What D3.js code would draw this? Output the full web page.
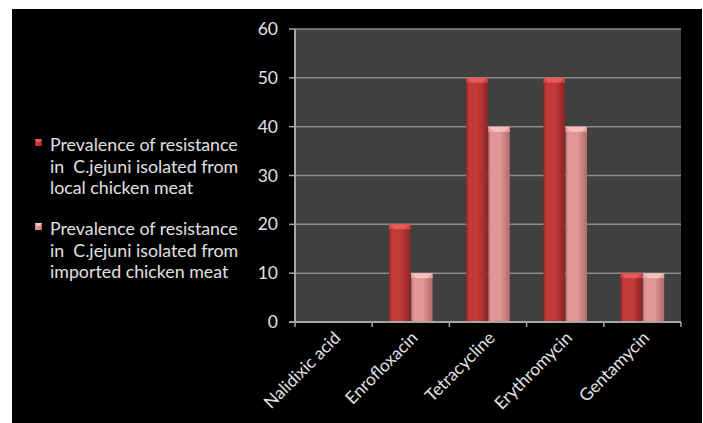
<!DOCTYPE html>
<html>
<head>
<meta charset="utf-8">
<script src="https://cdn.jsdelivr.net/npm/d3@7/dist/d3.min.js"></script>
<style>
  html, body { margin: 0; padding: 0; background: #ffffff; }
  svg { display: block; }
  text { font-family: Lato, "Open Sans", sans-serif; white-space: pre; }
</style>
</head>
<body>
<svg id="chart" width="703" height="423"></svg>
<script>
// Antibiotic resistance of C. jejuni isolates (%)
const categories = ["Nalidixic acid", "Enrofloxacin", "Tetracycline", "Erythromycin", "Gentamycin"];
const localValues = [0, 20, 50, 50, 10];
const importedValues = [0, 10, 40, 40, 10];
const seriesNames = [
  "Prevalence of resistance in  C.jejuni isolated from local chicken meat",
  "Prevalence of resistance in  C.jejuni isolated from imported chicken meat"
];
const legendLines = [
  ["Prevalence of resistance", "in  C.jejuni isolated from", "local chicken meat"],
  ["Prevalence of resistance", "in  C.jejuni isolated from", "imported chicken meat"]
];
const yTicks = [0, 10, 20, 30, 40, 50, 60];

const svg = d3.select("#chart");

// dark slide background
svg.append("rect").attr("x", 12).attr("y", 9).attr("width", 690).attr("height", 414).attr("fill", "#000000");

const plot = { left: 295, right: 681, top: 29, bottom: 322 };

const x0 = d3.scaleBand().domain(categories).range([plot.left, plot.right]).padding(0);
const seriesKeys = ["local", "imported"];
const x1 = d3.scaleBand().domain(seriesKeys).range([0, x0.bandwidth()])
  .paddingInner(0.03).paddingOuter(0.76);
const y = d3.scaleLinear().domain([0, 60]).range([plot.bottom, plot.top]);

const defs = svg.append("defs");
const palettes = {
  local:    { dark: "#8f2424", mid: "#c23a3a", cap: "#e85a5a", capEdge: "#d04545" },
  imported: { dark: "#b06c6c", mid: "#e39696", cap: "#f6c0c0", capEdge: "#e8a0a0" }
};
seriesKeys.forEach(k => {
  const p = palettes[k];
  const g = defs.append("linearGradient").attr("id", "grad-" + k)
    .attr("x1", "0").attr("x2", "1").attr("y1", "0").attr("y2", "0");
  g.append("stop").attr("offset", "0%").attr("stop-color", p.dark);
  g.append("stop").attr("offset", "12%").attr("stop-color", p.mid);
  g.append("stop").attr("offset", "55%").attr("stop-color", p.mid);
  g.append("stop").attr("offset", "100%").attr("stop-color", p.dark);
});

// plot area
svg.append("rect").attr("x", plot.left).attr("y", plot.top)
  .attr("width", plot.right - plot.left).attr("height", plot.bottom - plot.top)
  .attr("fill", "#404040");

// horizontal gridlines
svg.append("g").selectAll("line").data(yTicks.filter(d => d > 0)).join("line")
  .attr("x1", plot.left).attr("x2", plot.right)
  .attr("y1", d => y(d)).attr("y2", d => y(d))
  .attr("stroke", "#8c8c8c").attr("stroke-width", 1.5);

// bars
const rows = categories.map((c, i) => ({ cat: c, local: localValues[i], imported: importedValues[i] }));
const groups = svg.append("g").selectAll("g").data(rows).join("g")
  .attr("transform", d => `translate(${x0(d.cat)},0)`);

const bars = groups.selectAll("g").data(d => seriesKeys.map(k => ({ key: k, value: d[k] }))).join("g");
bars.append("rect")
  .attr("x", d => x1(d.key))
  .attr("y", d => y(d.value))
  .attr("width", x1.bandwidth())
  .attr("height", d => y(0) - y(d.value))
  .attr("fill", d => `url(#grad-${d.key})`);
// bevelled cap on top of each bar
const bev = 5;
bars.filter(d => d.value > 0).append("path")
  .attr("d", d => {
    const xl = x1(d.key), xr = xl + x1.bandwidth(), yt = y(d.value);
    return `M${xl},${yt} L${xr},${yt} L${xr - bev},${yt + bev} L${xl + bev},${yt + bev} Z`;
  })
  .attr("fill", d => palettes[d.key].cap);
bars.filter(d => d.value > 0).append("path")
  .attr("d", d => {
    const xl = x1(d.key), xr = xl + x1.bandwidth(), yt = y(d.value);
    return `M${xl},${yt} L${xl + bev},${yt + bev} L${xl},${yt + bev} Z M${xr},${yt} L${xr - bev},${yt + bev} L${xr},${yt + bev} Z`;
  })
  .attr("fill", d => palettes[d.key].capEdge);

// axes
const axisColor = "#a6a6a6";
svg.append("line").attr("x1", plot.left).attr("x2", plot.left)
  .attr("y1", plot.top).attr("y2", plot.bottom)
  .attr("stroke", axisColor).attr("stroke-width", 2);
svg.append("line").attr("x1", plot.left - 6).attr("x2", plot.right)
  .attr("y1", plot.bottom).attr("y2", plot.bottom)
  .attr("stroke", axisColor).attr("stroke-width", 2);
svg.append("g").selectAll("line").data(yTicks).join("line")
  .attr("x1", plot.left - 6).attr("x2", plot.left)
  .attr("y1", d => y(d)).attr("y2", d => y(d))
  .attr("stroke", axisColor).attr("stroke-width", 1.5);
const xTickPos = categories.map(c => x0(c)).concat([x0.range()[1]]);
svg.append("g").selectAll("line").data(xTickPos).join("line")
  .attr("x1", d => d).attr("x2", d => d)
  .attr("y1", plot.bottom).attr("y2", plot.bottom + 5)
  .attr("stroke", axisColor).attr("stroke-width", 1.5);

// y tick labels
svg.append("g").selectAll("text").data(yTicks).join("text")
  .attr("x", 278).attr("y", d => y(d)).attr("dy", "0.35em")
  .attr("text-anchor", "end").attr("font-size", 17.5).attr("fill", "#e0e0e0")
  .text(d => d);

// x category labels, rotated
svg.append("g").selectAll("text").data(categories).join("text")
  .attr("transform", c => `translate(${x0(c) + x0.bandwidth() / 2 + 8},${plot.bottom + 17}) rotate(-45)`)
  .attr("text-anchor", "end").attr("font-size", 17.3).attr("fill", "#e0e0e0")
  .text(c => c);

// legend
const legend = svg.append("g");
const legendTop = [151, 235];
seriesKeys.forEach((k, i) => {
  const lg = legend.append("g");
  lg.append("rect").attr("x", 35).attr("y", legendTop[i] - 12).attr("width", 7).attr("height", 7)
    .attr("fill", `url(#grad-${k})`);
  lg.append("path")
    .attr("d", `M35,${legendTop[i] - 12} L42,${legendTop[i] - 12} L40,${legendTop[i] - 9} L37,${legendTop[i] - 9} Z`)
    .attr("fill", palettes[k].cap);
  lg.append("title").text(seriesNames[i]);
  lg.selectAll("text").data(legendLines[i]).join("text")
    .attr("x", 50).attr("y", (d, j) => legendTop[i] + j * 21.5)
    .attr("font-size", 17.8).attr("fill", "#e0e0e0")
    .text(d => d);
});
</script>
</body>
</html>
